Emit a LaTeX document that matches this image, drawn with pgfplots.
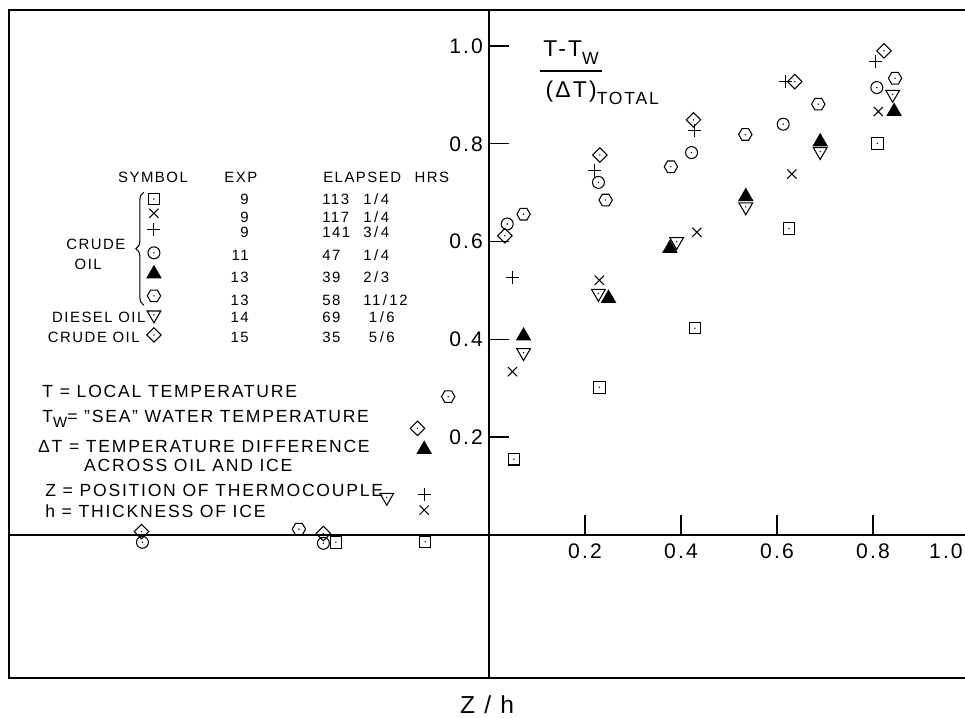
\documentclass[border=0pt]{standalone}
\usepackage{pgfplots}
\pgfplotsset{compat=1.18}
\usepackage{fontspec}
\setmainfont{Liberation Sans}[LetterSpace=10]
\usetikzlibrary{decorations.pathreplacing}

\pgfdeclareplotmark{sqdot}{%
  \pgfpathrectangle{\pgfqpoint{-\pgfplotmarksize}{-\pgfplotmarksize}}{\pgfqpoint{2\pgfplotmarksize}{2\pgfplotmarksize}}%
  \pgfusepathqstroke
  \pgfpathcircle{\pgfpointorigin}{0.45pt}\pgfusepathqfill}
\pgfdeclareplotmark{cdot}{%
  \pgfpathcircle{\pgfpointorigin}{\pgfplotmarksize}\pgfusepathqstroke
  \pgfpathcircle{\pgfpointorigin}{0.45pt}\pgfusepathqfill}
\pgfdeclareplotmark{hexdot}{%
  \pgfpathmoveto{\pgfqpoint{\pgfplotmarksize}{0pt}}%
  \pgfpathlineto{\pgfqpoint{0.5\pgfplotmarksize}{0.866\pgfplotmarksize}}%
  \pgfpathlineto{\pgfqpoint{-0.5\pgfplotmarksize}{0.866\pgfplotmarksize}}%
  \pgfpathlineto{\pgfqpoint{-\pgfplotmarksize}{0pt}}%
  \pgfpathlineto{\pgfqpoint{-0.5\pgfplotmarksize}{-0.866\pgfplotmarksize}}%
  \pgfpathlineto{\pgfqpoint{0.5\pgfplotmarksize}{-0.866\pgfplotmarksize}}%
  \pgfpathclose\pgfusepathqstroke
  \pgfpathcircle{\pgfpointorigin}{0.45pt}\pgfusepathqfill}
\pgfdeclareplotmark{diadot}{%
  \pgfpathmoveto{\pgfqpoint{0pt}{\pgfplotmarksize}}%
  \pgfpathlineto{\pgfqpoint{\pgfplotmarksize}{0pt}}%
  \pgfpathlineto{\pgfqpoint{0pt}{-\pgfplotmarksize}}%
  \pgfpathlineto{\pgfqpoint{-\pgfplotmarksize}{0pt}}%
  \pgfpathclose\pgfusepathqstroke
  \pgfpathcircle{\pgfpointorigin}{0.45pt}\pgfusepathqfill}
\pgfdeclareplotmark{itridot}{%
  \pgfpathmoveto{\pgfqpoint{-\pgfplotmarksize}{0.577\pgfplotmarksize}}%
  \pgfpathlineto{\pgfqpoint{\pgfplotmarksize}{0.577\pgfplotmarksize}}%
  \pgfpathlineto{\pgfqpoint{0pt}{-1.155\pgfplotmarksize}}%
  \pgfpathclose\pgfusepathqstroke
  \pgfpathcircle{\pgfpointorigin}{0.45pt}\pgfusepathqfill}
\pgfdeclareplotmark{ftri}{%
  \pgfpathmoveto{\pgfqpoint{0pt}{1.155\pgfplotmarksize}}%
  \pgfpathlineto{\pgfqpoint{\pgfplotmarksize}{-0.577\pgfplotmarksize}}%
  \pgfpathlineto{\pgfqpoint{-\pgfplotmarksize}{-0.577\pgfplotmarksize}}%
  \pgfpathclose\pgfusepathqfillstroke}

\pgfplotsset{
  mk/.style={only marks, color=black, mark options={solid, line width=0.6pt, fill=black}},
  sq/.style={mk, mark=sqdot, mark size=3.3pt},
  xx/.style={mk, mark=x, mark size=3.7pt},
  pl/.style={mk, mark=+, mark size=3.7pt},
  ci/.style={mk, mark=cdot, mark size=3.4pt},
  ft/.style={mk, mark=ftri, mark size=3.9pt},
  hx/.style={mk, mark=hexdot, mark size=3.8pt},
  it/.style={mk, mark=itridot, mark size=3.9pt},
  di/.style={mk, mark=diadot, mark size=4.1pt},
}

\newcommand\lgf{\fontsize{8.5}{10}\selectfont}
\newcommand\dff{\fontsize{10}{12}\selectfont}
\newcommand\row[4]{%
  \node[anchor=base east, font=\lgf, inner sep=0pt] at (axis cs:-0.500,#1) {#2};
  \node[anchor=base west, font=\lgf, inner sep=0pt] at (axis cs:-0.348,#1) {#3};
  \node[anchor=base west, font=\lgf, inner sep=0pt] at (axis cs:-0.2625,#1) {#4};}

\begin{document}
\begin{tikzpicture}
\useasboundingbox (-0.18,-0.8) rectangle (19.12,13.56);
\begin{axis}[
  at={(0,0)}, anchor=south west,
  scale only axis, width=19.12cm, height=13.36cm,
  xmin=-1.0, xmax=0.9917, ymin=-0.2924, ymax=1.0736,
  axis lines=middle,
  axis line style={-, line width=0.9pt},
  xtick={0.2,0.4,0.6,0.8}, xticklabels={0.2,0.4,0.6,0.8},
  ytick={0.2,0.4,0.6,0.8,1.0}, yticklabels={0.2,0.4,0.6,0.8,1.0},
  extra x ticks={0.952}, extra x tick labels={1.0},
  extra x tick style={major tick length=0pt},
  tick align=inside, major tick length=0.4cm,
  tick style={black, line width=0.8pt},
  ticklabel style={font=\fontsize{12}{14}\selectfont},
  xticklabel style={yshift=-0.06cm},
  /pgf/number format/assume math mode=true,
  clip=false,
]
\draw[line width=1.1pt] (rel axis cs:1,1) -- (rel axis cs:0,1) -- (rel axis cs:0,0) -- (rel axis cs:1,0);

% data
\addplot[sq] coordinates {(-0.319,-0.015) (-0.133,-0.014) (0.052,0.155) (0.230,0.302) (0.429,0.423) (0.625,0.627) (0.809,0.801)};
\addplot[xx] coordinates {(-0.135,0.051) (0.049,0.334) (0.230,0.521) (0.433,0.619) (0.631,0.738) (0.811,0.866)};
\addplot[pl] coordinates {(-0.135,0.082) (0.049,0.527) (0.219,0.746) (0.429,0.828) (0.617,0.927) (0.806,0.969)};
\addplot[ci] coordinates {(-0.722,-0.015) (-0.345,-0.017) (0.038,0.636) (0.228,0.721) (0.422,0.782) (0.613,0.840) (0.808,0.915)};
\addplot[ft] coordinates {(-0.135,0.175) (0.072,0.407) (0.249,0.484) (0.377,0.586) (0.535,0.692) (0.690,0.804) (0.844,0.866)};
\addplot[hx] coordinates {(-0.396,0.012) (-0.085,0.283) (0.072,0.656) (0.243,0.685) (0.379,0.753) (0.534,0.819) (0.686,0.881) (0.846,0.934)};
\addplot[it] coordinates {(-0.213,0.077) (0.072,0.373) (0.228,0.494) (0.391,0.600) (0.535,0.671) (0.690,0.784) (0.841,0.901)};
\addplot[di] coordinates {(-0.724,0.007) (-0.345,0.003) (-0.149,0.218) (0.033,0.612) (0.231,0.777) (0.426,0.849) (0.637,0.927) (0.823,0.990)};

% legend symbols
\addplot[sq] coordinates {(-0.698,0.687)};
\addplot[xx] coordinates {(-0.698,0.658)};
\addplot[pl] coordinates {(-0.698,0.624)};
\addplot[ci] coordinates {(-0.698,0.577)};
\addplot[ft] coordinates {(-0.698,0.534)};
\addplot[hx] coordinates {(-0.698,0.489)};
\addplot[it] coordinates {(-0.698,0.450)};
\addplot[di] coordinates {(-0.698,0.409)};

% legend table
\node[anchor=base, font=\lgf] at (axis cs:-0.700,0.720) {SYMBOL};
\node[anchor=base, font=\lgf] at (axis cs:-0.517,0.720) {EXP};
\node[anchor=base west, font=\lgf, inner sep=0pt] at (axis cs:-0.346,0.720) {ELAPSED\hspace{0.9em}HRS};
\row{0.675}{9}{113}{1\,/\,4}
\row{0.640}{9}{117}{1\,/\,4}
\row{0.609}{9}{141}{3\,/\,4}
\row{0.562}{11}{47}{1\,/\,4}
\row{0.517}{13}{39}{2\,/\,3}
\row{0.470}{13}{58}{11\,/\,12}
\row{0.434}{14}{69}{\ 1\,/\,6}
\row{0.393}{15}{35}{\ 5\,/\,6}
\draw[decorate, decoration={brace, amplitude=0.16cm}, line width=0.6pt] (axis cs:-0.719,0.470) -- (axis cs:-0.719,0.701);
\node[anchor=base, font=\lgf] at (axis cs:-0.819,0.583) {CRUDE};
\node[anchor=base, font=\lgf] at (axis cs:-0.835,0.542) {OIL};
\node[anchor=base east, font=\lgf, inner sep=0pt] at (axis cs:-0.715,0.434) {DIESEL OIL};
\node[anchor=base east, font=\lgf, inner sep=0pt] at (axis cs:-0.727,0.393) {CRUDE OIL};

% definitions
\node[anchor=base west, font=\dff, inner sep=0pt] at (axis cs:-0.931,0.282) {T = LOCAL TEMPERATURE};
\node[anchor=base west, font=\dff, inner sep=0pt] at (axis cs:-0.931,0.231) {T\raisebox{-0.3em}{\fontsize{8.5}{10}\selectfont W}= "SEA" WATER TEMPERATURE};
\node[anchor=base west, font=\dff, inner sep=0pt] at (axis cs:-0.940,0.168) {ΔT = TEMPERATURE DIFFERENCE};
\node[anchor=base west, font=\dff, inner sep=0pt] at (axis cs:-0.844,0.129) {ACROSS OIL AND ICE};
\node[anchor=base west, font=\dff, inner sep=0pt] at (axis cs:-0.925,0.078) {Z = POSITION OF THERMOCOUPLE};
\node[anchor=base west, font=\dff, inner sep=0pt] at (axis cs:-0.925,0.035) {h = THICKNESS OF ICE};

% y label fraction
\node[anchor=base west, inner sep=0pt, font=\fontsize{13}{15}\selectfont] at (axis cs:0.1125,0.9775) {T-T\raisebox{-4pt}{\fontsize{10}{12}\selectfont W}};
\draw[line width=0.8pt] (axis cs:0.106,0.949) -- (axis cs:0.235,0.949);
\node[anchor=base west, inner sep=0pt, font=\fontsize{13}{15}\selectfont] at (axis cs:0.117,0.894) {(ΔT)\raisebox{-4pt}{\fontsize{10}{12}\selectfont TOTAL}};

% x label
\node[anchor=base, inner sep=0pt, font=\fontsize{14}{16}\selectfont] at (axis cs:-0.004,-0.366) {Z / h};
\end{axis}
\end{tikzpicture}
\end{document}
